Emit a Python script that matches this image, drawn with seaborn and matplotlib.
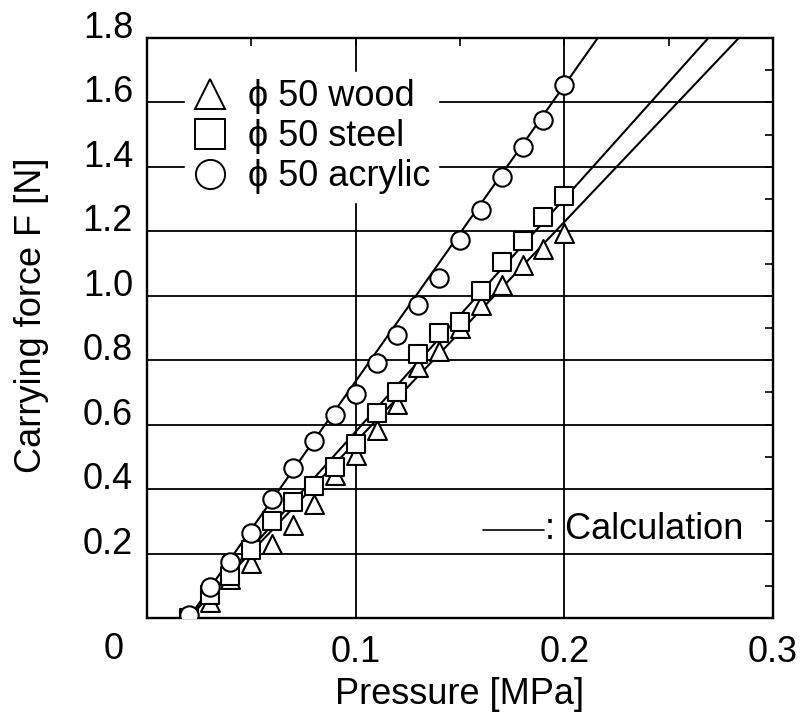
import numpy as np
import pandas as pd
import matplotlib
matplotlib.use("Agg")
import matplotlib.pyplot as plt
import seaborn as sns
from matplotlib.ticker import MultipleLocator, FixedLocator
from matplotlib.lines import Line2D

# ---------------- data ----------------
pressure = [0.02, 0.03, 0.04, 0.05, 0.06, 0.07, 0.08, 0.09, 0.10, 0.11,
            0.12, 0.13, 0.14, 0.15, 0.16, 0.17, 0.18, 0.19, 0.20]
wood = [0.00, 0.05, 0.12, 0.17, 0.23, 0.29, 0.355, 0.445, 0.505, 0.585,
        0.665, 0.78, 0.83, 0.90, 0.97, 1.035, 1.095, 1.145, 1.195]
steel = [0.00, 0.07, 0.13, 0.21, 0.30, 0.36, 0.41, 0.47, 0.54, 0.635,
         0.70, 0.82, 0.885, 0.92, 1.015, 1.105, 1.17, 1.245, 1.31]
acrylic = [0.01, 0.095, 0.175, 0.265, 0.37, 0.465, 0.55, 0.63, 0.695, 0.79,
           0.878, 0.97, 1.055, 1.172, 1.265, 1.37, 1.463, 1.547, 1.655]

calc_wood_x = [0.02, 0.2836]
calc_wood_y = [0.0, 1.8]
calc_steel_x = [0.02, 0.269]
calc_steel_y = [0.0, 1.8]
calc_acrylic_x = [0.02, 0.216]
calc_acrylic_y = [0.0, 1.8]

x_ticks = [0.1, 0.2, 0.3]
x_tick_labels = ["0.1", "0.2", "0.3"]
y_ticks = [0.2, 0.4, 0.6, 0.8, 1.0, 1.2, 1.4, 1.6, 1.8]
y_tick_labels = ["0.2", "0.4", "0.6", "0.8", "1.0", "1.2", "1.4", "1.6", "1.8"]
legend_labels = ["\u03d5 50 wood", "\u03d5 50 steel", "\u03d5 50 acrylic"]
x_label = "Pressure [MPa]"
y_label = "Carrying force F [N]"
calc_label = ": Calculation"
origin_label = "0"

# ---------------- style ----------------
sns.set_style("white")
plt.rcParams["font.family"] = ["Liberation Sans", "DejaVu Sans"]
plt.rcParams["text.color"] = "black"
plt.rcParams["axes.labelcolor"] = "black"
plt.rcParams["xtick.color"] = "black"
plt.rcParams["ytick.color"] = "black"
FS = 26

fig = plt.figure(figsize=(8.12, 7.22), dpi=100)
ax = fig.add_axes([147 / 812, 1 - 618 / 722, (773 - 147) / 812, (618 - 38) / 722])

# calculation lines
for cx, cy in [(calc_wood_x, calc_wood_y), (calc_steel_x, calc_steel_y),
               (calc_acrylic_x, calc_acrylic_y)]:
    sns.lineplot(x=cx, y=cy, ax=ax, color="black", linewidth=1.5, zorder=2)

mk = dict(facecolor="white", edgecolor="black", linewidth=1.5, legend=False, ax=ax)
sns.scatterplot(x=pressure, y=wood, marker="^", s=185, zorder=3, **mk)
sns.scatterplot(x=pressure, y=steel, marker="s", s=160, zorder=4, **mk)
sns.scatterplot(x=pressure, y=acrylic, marker="o", s=175, zorder=5, **mk)

ax.set_xlim(0, 0.3)
ax.set_ylim(0, 1.8)
ax.xaxis.set_major_locator(FixedLocator(x_ticks))
ax.set_xticklabels(x_tick_labels)
ax.xaxis.set_minor_locator(MultipleLocator(0.05))
ax.yaxis.set_major_locator(FixedLocator(y_ticks))
ax.set_yticklabels(y_tick_labels)
ax.yaxis.set_minor_locator(MultipleLocator(0.1))

ax.grid(True, which="major", color="black", linewidth=1.3)
ax.set_axisbelow(True)
ax.tick_params(which="both", direction="in", top=True, right=True,
               length=6, width=1.2, labelsize=FS, color="black",
               labelcolor="black")
ax.tick_params(axis="x", pad=12)
ax.tick_params(axis="y", pad=10)
for lab in ax.get_yticklabels():
    lab.set_verticalalignment("baseline")
for sp in ax.spines.values():
    sp.set_linewidth(1.7)
    sp.set_color("black")

ax.set_xlabel(x_label, fontsize=FS, labelpad=5, color="black")
ax.set_ylabel(y_label, fontsize=FS, va="center", color="black")
ax.yaxis.set_label_coords((32 - 147) / 626, (618 - 315) / 580)
ax.text(-0.053, -0.055, origin_label, transform=ax.transAxes, fontsize=FS,
        ha="center", va="center", color="black")

# legend
handles = [
    Line2D([], [], marker="^", ls="none", mfc="white", mec="black", ms=22, mew=1.4),
    Line2D([], [], marker="s", ls="none", mfc="white", mec="black", ms=21, mew=1.4),
    Line2D([], [], marker="o", ls="none", mfc="white", mec="black", ms=21, mew=1.4),
]
leg = ax.legend(handles, legend_labels, loc="upper left",
                bbox_to_anchor=((185 - 147) / 626, (618 - 72) / 580),
                borderaxespad=0, fontsize=FS, frameon=True, fancybox=False,
                edgecolor="white", facecolor="white", framealpha=1,
                handlelength=1.0, handletextpad=0.55, borderpad=0.2,
                labelspacing=0.14)
leg.set_zorder(6)
for t in leg.get_texts():
    t.set_color("black")

# calculation annotation
ax.plot([0.537, 0.634], [0.152, 0.152], transform=ax.transAxes, color="black",
        linewidth=1.2, clip_on=False)
ax.text(0.636, 0.152, calc_label, transform=ax.transAxes, fontsize=FS,
        ha="left", va="center", color="black")

fig.savefig("out.png", dpi=100)
